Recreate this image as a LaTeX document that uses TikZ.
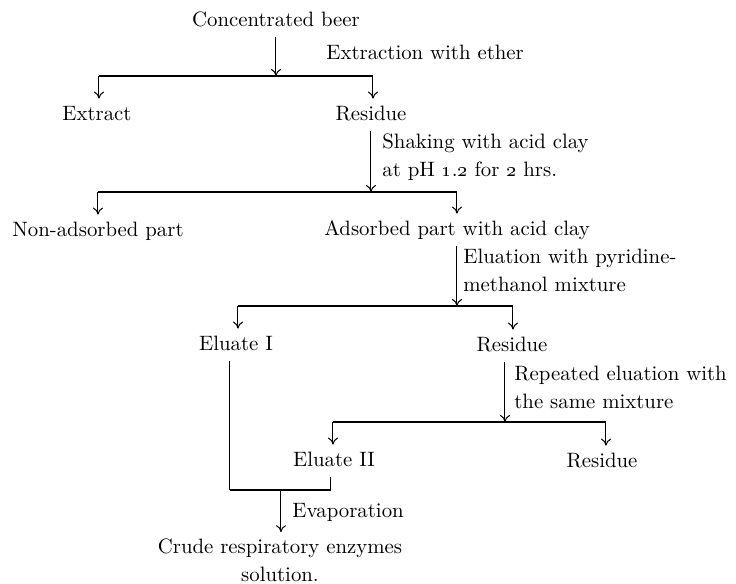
\documentclass[tikz,border=0pt]{standalone}
\usepackage{tikz}
\usetikzlibrary{arrows.meta, positioning}

\begin{document}
\begin{tikzpicture}[
    x=0.5pt, y=-0.5pt,
    font=\fontsize{10.4}{14}\selectfont,
    item/.style={inner xsep=1pt, inner ysep=3.5pt, text height=7pt, text depth=2pt},
    note/.style={anchor=west, align=left, inner sep=0pt},
    bar/.style={line width=0.75pt},
    link/.style={line width=0.5pt},
    arrow/.style={link, -{To[length=3.5pt, width=5pt]}}
  ]
  \useasboundingbox (0,0) rectangle (736,584);

  \node[item] (beer) at (276,21) {Concentrated beer};
  \node[note] (ether) at (326,52) {Extraction with ether};
  \coordinate (b1l) at (99,76);
  \coordinate (b1r) at (373,76);
  \node[item] (extract) at (97,115) {Extract};
  \node[item] (res1) at (371,115) {Residue};
  \node[note] (shake) at (382,157.5) {Shaking with acid clay\\at pH \oldstylenums{1}.\oldstylenums{2} for \oldstylenums{2} hrs.};

  \coordinate (b2l) at (98,192);
  \coordinate (b2r) at (457,192);
  \node[item] (nonads) at (98,231) {Non-adsorbed part};
  \node[item, anchor=west] (ads) at (322,230) {Adsorbed part with acid clay};
  \node[note] (elute) at (463,270) {Eluation with pyridine-\\methanol mixture};

  \coordinate (b3l) at (238,306);
  \coordinate (b3r) at (513,306);
  \node[item] (elu1) at (236,345) {Eluate I};
  \node[item] (res2) at (512,346) {Residue};
  \coordinate (j4) at (505,422);
  \node[note] (repeat) at (514,387.5) {Repeated eluation with\\the same mixture};

  \coordinate (b4l) at (333,422);
  \coordinate (b4r) at (606,422);
  \node[item] (elu2) at (334,461) {Eluate II};
  \node[item] (res3) at (602,462) {Residue};

  \coordinate (b5l) at (230,490);
  \coordinate (b5r) at (331,490);
  \coordinate (j5) at (281,490);
  \node[note] (evap) at (292,512) {Evaporation};
  \node[inner sep=3pt, align=center] (crude) at (280,560) {Crude respiratory enzymes\\solution.};

  % first split
  \draw[arrow] (beer.south) -- (beer.south |- b1l);
  \draw[bar] (b1l) -- (b1r);
  \draw[arrow] (b1l) -- (b1l |- extract.north);
  \draw[arrow] (b1r) -- (b1r |- res1.north);

  % acid clay
  \draw[arrow] (res1.south) -- (res1.south |- b2l);
  \draw[bar] (b2l) -- (b2r);
  \draw[arrow] (b2l) -- (b2l |- nonads.north);
  \draw[arrow] (b2r) -- (b2r |- ads.north);

  % eluation
  \draw[arrow] (ads.south -| b2r) -- (b2r |- b3l);
  \draw[bar] (b3l) -- (b3r);
  \draw[arrow] (b3l) -- (b3l |- elu1.north);
  \draw[arrow] (b3r) -- (b3r |- res2.north);

  % repeated eluation
  \draw[arrow] (res2.south -| j4) -- (j4);
  \draw[bar] (b4l) -- (b4r);
  \draw[arrow] (b4l) -- (b4l |- elu2.north);
  \draw[arrow] (b4r) -- (b4r |- res3.north);

  % joining the eluates
  \draw[link] (elu1.south -| b5l) -- (b5l);
  \draw[link] (elu2.south -| b5r) -- (b5r);
  \draw[bar] (b5l) -- (b5r);
  \draw[arrow] (j5) -- (j5 |- crude.north);
\end{tikzpicture}
\end{document}
